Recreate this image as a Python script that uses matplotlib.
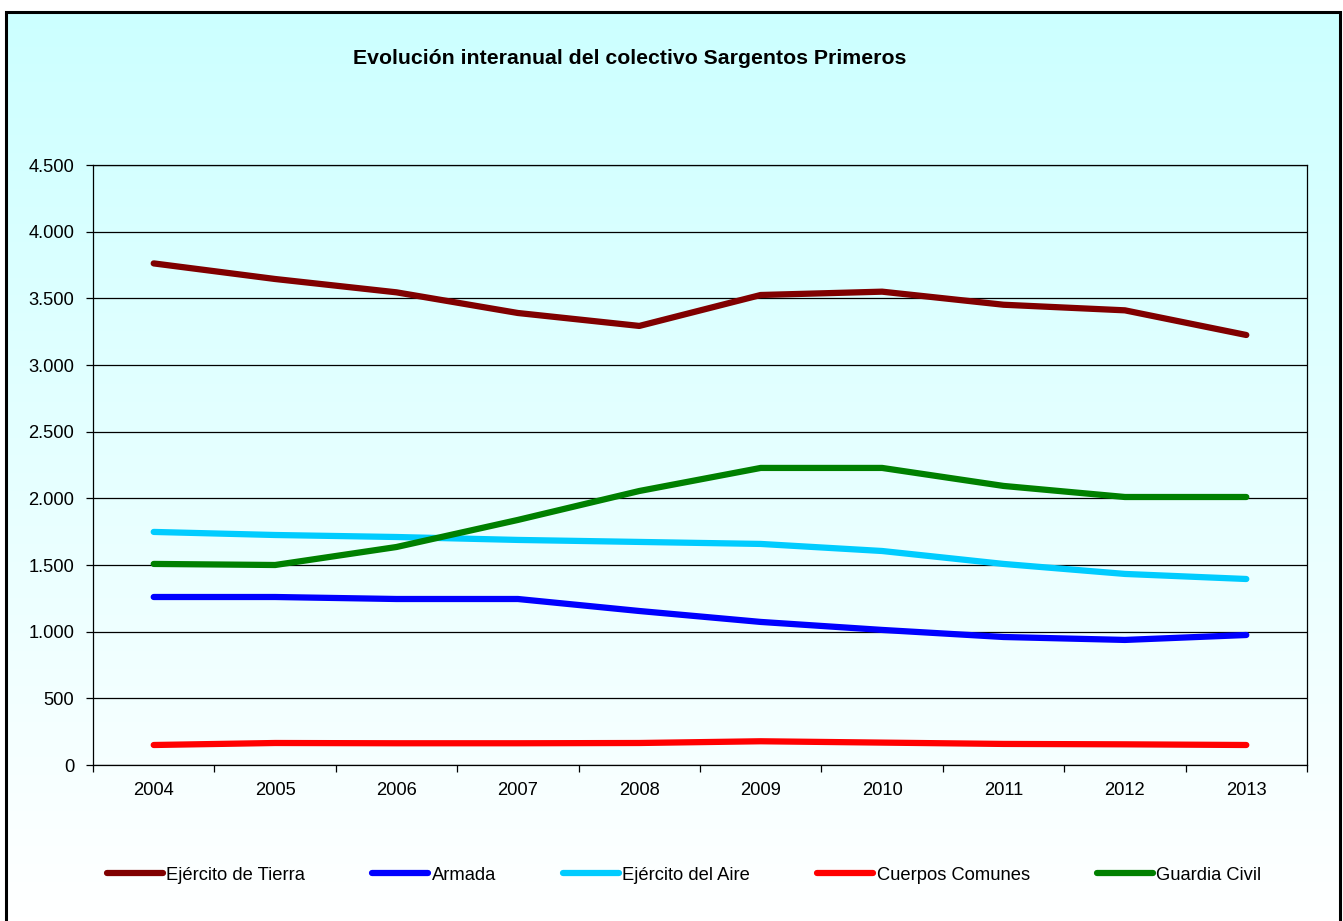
#!/usr/bin/env python3
"""Evolución interanual del colectivo Sargentos Primeros."""

import matplotlib
matplotlib.use("Agg")
import matplotlib.pyplot as plt
import numpy as np
from matplotlib.colors import LinearSegmentedColormap
from matplotlib.patches import Rectangle
from matplotlib.ticker import FuncFormatter, FixedLocator

YEARS = ["2004", "2005", "2006", "2007", "2008", "2009", "2010", "2011", "2012", "2013"]

TIERRA = [3762, 3645, 3545, 3390, 3293, 3525, 3550, 3452, 3410, 3225]
ARMADA = [1260, 1260, 1245, 1245, 1155, 1073, 1013, 960, 938, 975]
AIRE = [1748, 1725, 1710, 1688, 1673, 1658, 1605, 1508, 1433, 1395]
COMUNES = [150, 165, 163, 163, 165, 178, 168, 158, 155, 150]
GUARDIA = [1508, 1500, 1635, 1838, 2055, 2228, 2228, 2093, 2010, 2010]

SERIES = [
    ("Ejército de Tierra", TIERRA, "#800000"),
    ("Armada", ARMADA, "#0000FF"),
    ("Ejército del Aire", AIRE, "#00CCFF"),
    ("Cuerpos Comunes", COMUNES, "#FF0000"),
    ("Guardia Civil", GUARDIA, "#008000"),
]

W, H, DPI = 1343, 921, 100
FS = 13.2


def main() -> None:
    plt.rcParams["font.family"] = ["Liberation Sans", "DejaVu Sans"]
    fig = plt.figure(figsize=(W / DPI, H / DPI), dpi=DPI)
    fig.patch.set_facecolor("white")

    # background gradient, cyan at the top fading to white
    bg = fig.add_axes([6 / W, 0, (1340 - 6) / W, 1 - 12 / H])
    cmap = LinearSegmentedColormap.from_list("bg", ["#CCFFFF", "#FFFFFF"])
    bg.imshow(np.linspace(0, 1, 256).reshape(-1, 1), aspect="auto", cmap=cmap,
              extent=[0, 1, 0, 1], origin="upper")
    bg.set_axis_off()

    ax = fig.add_axes([93 / W, 1 - 765 / H, (1307 - 93) / W, (765 - 165) / H])
    ax.patch.set_alpha(0)
    x = np.arange(len(YEARS))
    for label, values, color in SERIES:
        ax.plot(x, values, color=color, lw=4.5, solid_capstyle="round",
                solid_joinstyle="round", label=label, zorder=3)

    ax.set_xlim(-0.5, len(YEARS) - 0.5)
    ax.set_ylim(0, 4500)
    ax.set_yticks(np.arange(0, 4501, 500))
    ax.yaxis.set_major_formatter(FuncFormatter(lambda v, _: f"{int(v):,}".replace(",", ".")))
    ax.grid(axis="y", color="black", lw=0.9, zorder=1)
    ax.set_xticks(x)
    ax.set_xticklabels(YEARS)
    ax.xaxis.set_minor_locator(FixedLocator(np.arange(-0.5, len(YEARS), 1.0)))
    ax.tick_params(axis="x", which="major", length=0, pad=12, labelsize=FS)
    ax.tick_params(axis="x", which="minor", length=5, width=0.9, direction="out")
    ax.tick_params(axis="y", length=5, width=0.9, pad=8.5, labelsize=FS)
    for side in ["left", "bottom", "right", "top"]:
        ax.spines[side].set_color("black")
        ax.spines[side].set_linewidth(0.9)

    fig.text(630 / W, 1 - 58 / H, "Evolución interanual del colectivo Sargentos Primeros",
             ha="center", va="center", fontsize=15.3, fontweight="bold")

    fig.legend(loc="center", bbox_to_anchor=(684 / W, 1 - 875 / H), ncol=5, frameon=False,
               fontsize=FS, handlelength=3.05, handletextpad=0.2, columnspacing=3.65)

    fig.add_artist(Rectangle((6 / W, -0.01), (1340 - 6) / W, 1 - 12 / H + 0.01,
                             transform=fig.transFigure, fill=False, edgecolor="black",
                             lw=2.2, zorder=10))

    fig.savefig("out.png", dpi=DPI)
    plt.close(fig)


if __name__ == "__main__":
    main()
